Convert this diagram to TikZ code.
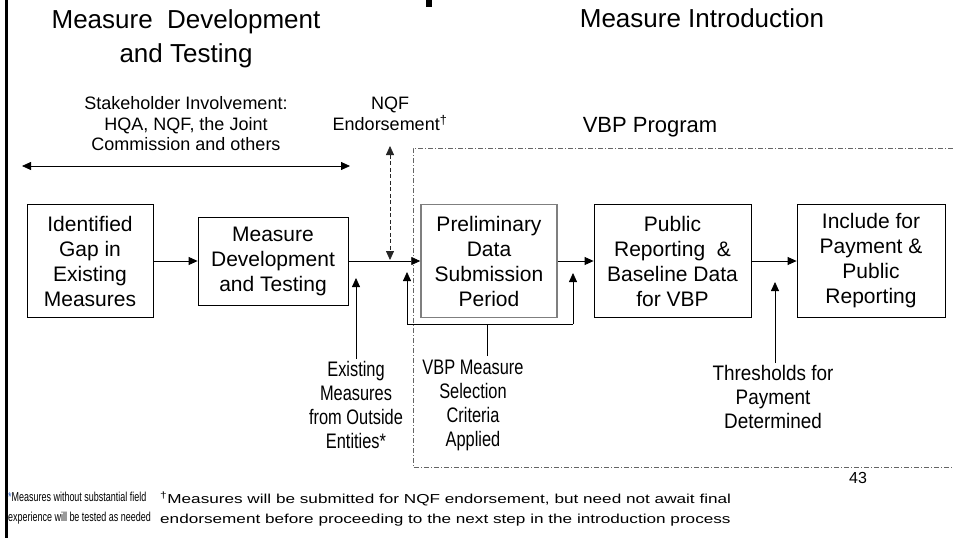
\documentclass[tikz,border=0pt]{standalone}
\usepackage{fontspec}
\setmainfont{Liberation Sans}
\newfontfamily\narrowfont[FakeStretch=0.78]{Liberation Sans}
\newfontfamily\thinnote[FakeStretch=0.69]{Liberation Sans}
\newfontfamily\widenote[FakeStretch=1.32]{Liberation Sans}
\usepackage{xcolor}
\usetikzlibrary{arrows.meta}
\definecolor{framegray}{HTML}{7F7F7F}
\definecolor{noteblue}{HTML}{3366CC}

\begin{document}
\begin{tikzpicture}[x=1pt, y=-1pt,
  stage/.style={draw, line width=0.8pt, minimum width=#1, minimum height=113pt, align=center, inner sep=0pt, font=\fontsize{21}{25}\selectfont},
  stage/.default=150pt,
  heading/.style={align=center, inner sep=0pt, font=\fontsize{26}{34}\selectfont},
  side/.style={align=center, inner sep=0pt, font=\fontsize{18}{20.5}\selectfont},
  feed/.style={align=center, inner sep=2pt, font=\narrowfont\fontsize{21}{24}\selectfont},
  note/.style={align=left, inner sep=0pt, anchor=north west},
  arrow/.style={-{Triangle[length=9pt, width=8pt]}, line width=0.8pt},
  twoway/.style={{Triangle[length=9pt, width=8pt]}-{Triangle[length=9pt, width=8pt]}, line width=0.8pt},
  line/.style={line width=0.8pt}
]
  \useasboundingbox (0,0) rectangle (953,538);
  \fill[white] (0,0) rectangle (953,538);

  % slide edge and the cut title
  \draw[line width=3pt] (6.5,0) -- (6.5,538);
  \fill (426,0) rectangle (432,7);

  \node[heading] (devtitle) at (186,39) {Measure~ Development\\and Testing};
  \node[heading] (introtitle) at (702,18) {Measure Introduction};

  \node[side] (stake) at (186,124) {Stakeholder Involvement:\\HQA, NQF, the Joint\\Commission and others};
  \node[side] (nqf) at (390,114) {NQF\\Endorsement\textsuperscript{†}};
  \node[inner sep=0pt, font=\fontsize{22}{26}\selectfont] (vbp) at (650,127) {VBP Program};

  % VBP program frame
  \draw[framegray!80!black, line width=0.8pt, dash pattern=on 5pt off 2pt on 1pt off 2pt] (953,148) -| (413,467) -- (953,467);

  \node[stage=126pt] (gap) at (90,261) {Identified\\Gap in\\Existing\\Measures};
  \node[stage, minimum height=88pt] (devel) at (273,261) {Measure\\Development\\and Testing};
  \node[stage=136pt, draw=framegray, line width=1.5pt] (prelim) at (489,261) {Preliminary\\Data\\Submission\\Period};
  \node[stage=157pt] (public) at (672.5,261) {Public\\Reporting~ \&\\Baseline Data\\for VBP};
  \node[stage=148pt] (include) at (871,261) {Include for\\Payment \&\\Public\\Reporting};

  \node[feed] (exist) at (356,405) {Existing\\Measures\\from Outside\\Entities*};
  \node[feed] (vbpsel) at (473,405) {VBP Measure\\Selection\\Criteria\\Applied};
  \node[feed, font=\fontsize{21}{24}\selectfont\addfontfeatures{FakeStretch=0.9}] (thresh) at (773,397) {Thresholds for\\Payment\\Determined};

  \coordinate (stakeL) at (22,166);
  \coordinate (stakeR) at (350,166);
  \coordinate (nqfup) at (390,146);
  \coordinate (nqfon) at (390,260);
  \coordinate (existtip) at (356,278);
  \coordinate (loopL) at (407,324);
  \coordinate (loopR) at (573,324);
  \coordinate (loopLtip) at (407,272);
  \coordinate (loopRtip) at (573,273);
  \coordinate (vbpstem) at (487,356);
  \coordinate (threshtip) at (775,282);

  \draw[twoway] (stakeL) -- (stakeR);
  \draw[twoway, black!85, dash pattern=on 4pt off 2.5pt] (nqfup) -- (nqfon);

  \draw[arrow] (gap) -- (devel);
  \draw[arrow] (devel) -- (prelim);
  \draw[arrow] (prelim) -- (public);
  \draw[arrow] (public) -- (include);

  \draw[arrow] (exist) -- (existtip);
  \draw[line] (loopL) -- (loopR);
  \draw[arrow] (loopL) -- (loopLtip);
  \draw[arrow] (loopR) -- (loopRtip);
  \draw[line] (vbpstem) -- (vbpstem |- loopL);
  \draw[arrow] (thresh.north -| threshtip) -- (threshtip);

  % footnotes
  \node[note, font=\thinnote\fontsize{13}{20}\selectfont] (note1) at (8,492) {\textcolor{noteblue}{*}Measures without substantial field\\experience will be tested as needed};
  \node[note, font=\widenote\fontsize{13}{20}\selectfont] (note2) at (160,492) {\textsuperscript{†}Measures will be submitted for NQF endorsement, but need not await final\\endorsement before proceeding to the next step in the introduction process};
  \node[inner sep=0pt, font=\fontsize{16}{18}\selectfont] (page) at (858,478) {43};
\end{tikzpicture}
\end{document}
